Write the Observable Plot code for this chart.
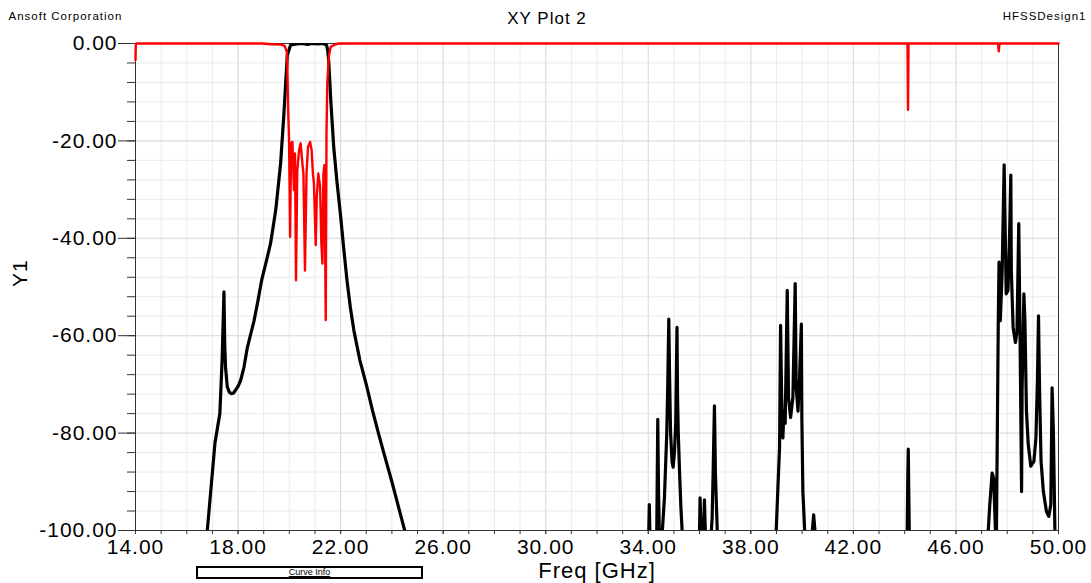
<!DOCTYPE html>
<html>
<head>
<meta charset="utf-8">
<script src="https://cdn.jsdelivr.net/npm/d3@7"></script>
<script src="https://cdn.jsdelivr.net/npm/@observablehq/plot@0.6"></script>
<style>
  html, body { margin: 0; padding: 0; background: #fff; }
  #wrap { position: relative; width: 1091px; height: 583px; }
  #curveinfo {
    position: absolute; left: 196px; top: 566px; width: 227px; height: 13px;
    box-sizing: border-box; border: 2px solid #000; background: #fff;
    font: 9px 'Liberation Sans', Arial, sans-serif; text-align: center;
    line-height: 9px; text-decoration: underline; color: #000;
  }
</style>
</head>
<body>
<div id="wrap"><div id="curveinfo">Curve Info</div></div>
<script>
// ---- Tick values ----
const xMajorTicks = [14, 18, 22, 26, 30, 34, 38, 42, 46, 50];
const yMajorTicks = [0, -20, -40, -60, -80, -100];

// ---- Black curve (S21) by segment: frequency [GHz] and dB ----
const blkPassFreq = [16.55,16.80,17.10,17.29,17.35,17.38,17.45,17.48,17.51,17.58,17.66,17.74,17.82,17.90,18.00,18.10,18.23,18.36,18.50,18.62,18.77,18.92,19.08,19.27,19.47,19.66,19.79,19.92,20.05,20.30,20.50,20.70,20.90,21.10,21.30,21.45,21.50,21.54,21.62,21.73,21.86,21.99,22.12,22.25,22.38,22.52,22.75,23.00,23.25,23.50,23.75,24.00,24.25,24.50,24.80];
const blkPassDb   = [-115,-100,-82,-76,-68.5,-64.7,-51,-61.6,-66.4,-70.5,-71.6,-71.9,-71.8,-71.2,-70.4,-69.2,-66.5,-62.5,-59.5,-57,-53,-48.6,-45.2,-41,-34.2,-24.6,-14.3,-2.4,-0.3,-0.1,0,-0.2,0,-0.1,0,-0.3,-1.5,-4,-12,-21.2,-28.5,-34.9,-42,-48.7,-54.2,-59,-65,-70,-75.5,-80.5,-85.3,-90,-95,-100,-106];

const blk34Freq = [33.99,34.02,34.04,34.06,34.09,34.33,34.37,34.40,34.43,34.50,34.55,34.63,34.72,34.76,34.80,34.83,34.87,34.93,34.97,35.02,35.07,35.12,35.14,35.17,35.22,35.27,35.32,35.36];
const blk34Db   = [-104,-100,-94.7,-100,-104,-101,-77.2,-92,-100,-101,-100,-93.3,-80.3,-70,-56.6,-68,-80,-86,-87,-84,-78,-58.3,-72,-80,-88,-95,-100,-106];

const blk36Freq = [35.98,36.00,36.02,36.06,36.12,36.16,36.19,36.23,36.45,36.49,36.53,36.58,36.62,36.69,36.72];
const blk36Db   = [-104,-100,-93.3,-100,-101,-100,-93.7,-101,-101,-97.5,-88,-74.4,-88.5,-100,-106];

const blk39Freq = [38.95,38.99,39.05,39.12,39.16,39.20,39.25,39.29,39.34,39.42,39.47,39.55,39.64,39.73,39.77,39.84,39.90,39.97,39.99,40.03,40.10,40.13,40.38,40.40,40.45,40.50,40.53];
const blk39Db   = [-106,-100,-92,-83,-57.9,-72,-81,-75.5,-78,-50.7,-72.7,-76.8,-72.7,-49.3,-70.7,-75.5,-68.6,-57.6,-76.8,-92,-100,-106,-104,-100,-96.8,-100,-104];

const blk44Freq = [44.08,44.10,44.12,44.14,44.16,44.18,44.20];
const blk44Db   = [-106,-100,-90,-83.3,-92,-100,-106];

const blk47Freq = [47.22,47.26,47.32,47.41,47.47,47.54,47.58,47.62,47.65,47.68,47.73,47.80,47.88,47.96,48.03,48.09,48.14,48.16,48.23,48.32,48.38,48.45,48.50,48.56,48.58,48.65,48.69,48.75,48.82,48.92,49.04,49.12,49.18,49.22,49.26,49.32,49.41,49.53,49.62,49.70,49.75,49.80,49.86,49.90];
const blk47Db   = [-106,-100,-94.7,-88.2,-89.2,-100,-100,-76.1,-57.6,-44.9,-56.9,-47.3,-24.9,-51.4,-50.7,-39.7,-27,-46.6,-58.3,-61.4,-59.3,-37,-60,-92,-71.3,-51.4,-56.9,-75.5,-82.3,-86.8,-85.8,-81,-68.6,-55.9,-70.7,-85.8,-92,-96.1,-97.1,-94.7,-70.7,-79.6,-100,-106];

// ---- Red curve (S11) ----
const redFreq = [14.00,14.01,14.03,18.95,19.30,19.66,19.82,19.90,19.92,19.95,19.99,20.03,20.07,20.12,20.18,20.22,20.26,20.31,20.38,20.44,20.51,20.55,20.61,20.67,20.73,20.81,20.87,20.92,20.96,21.03,21.07,21.13,21.20,21.25,21.29,21.33,21.37,21.39,21.42,21.45,21.48,21.54,21.61,21.81,21.95,44.11,44.13,44.15,47.64,47.67,47.70,50.00];
const redDb   = [-3.4,-0.4,0,0,-0.15,-0.2,-0.5,-1.7,-4.1,-13,-19.8,-39.7,-20.5,-20.2,-30.1,-22.6,-48.6,-26,-21.9,-20.5,-24.6,-26.7,-46.6,-26.7,-21.2,-20.2,-21.9,-26.7,-28.7,-41.4,-31.5,-26.7,-29.4,-41.1,-45.2,-26.7,-25,-38.3,-56.8,-18.5,-8.2,-2.7,-0.7,-0.15,0,0,-13.6,0,0,-1.6,0,0];

// ---- Build tables ----
const zip = (fs, ds) => fs.map((f, i) => ({f, db: ds[i]}));
const black = [].concat(
  zip(blkPassFreq, blkPassDb), zip(blk34Freq, blk34Db), zip(blk36Freq, blk36Db),
  zip(blk39Freq, blk39Db), zip(blk44Freq, blk44Db), zip(blk47Freq, blk47Db)
);
const red = zip(redFreq, redDb);

const xMinorTicks = d3.range(14, 50.001, 1);
const yMinorTicks = d3.range(-100, 0.001, 4);
const fmt = d => d.toFixed(2);

const chart = Plot.plot({
  width: 1091,
  height: 583,
  marginLeft: 135,
  marginRight: 33,
  marginTop: 43,
  marginBottom: 53,
  x: {domain: [14, 50], label: null},
  y: {domain: [-100, 0], label: null},
  style: {
    fontFamily: "'Liberation Sans', Arial, sans-serif",
    fontSize: "21px",
    color: "#000",
    background: "transparent",
    letterSpacing: "1px"
  },
  marks: [
    Plot.gridX({ticks: xMinorTicks, stroke: "#ebebeb", strokeOpacity: 1}),
    Plot.gridY({ticks: yMinorTicks, stroke: "#ebebeb", strokeOpacity: 1}),
    Plot.gridX({ticks: xMajorTicks, stroke: "#dcdcdc", strokeOpacity: 1}),
    Plot.gridY({ticks: yMajorTicks, stroke: "#dcdcdc", strokeOpacity: 1}),
    Plot.axisY({ticks: yMinorTicks, tickSize: 8, tickFormat: () => "", label: null, stroke: "#333"}),
    Plot.axisY({ticks: yMajorTicks, tickSize: 17, tickPadding: 1, tickFormat: fmt, label: null, stroke: "#333"}),
    Plot.axisX({ticks: xMinorTicks, tickSize: 4, tickFormat: () => "", label: null, stroke: "#333"}),
    Plot.axisX({ticks: xMajorTicks, tickSize: 4, tickPadding: 5, tickFormat: fmt, label: null, stroke: "#333"}),
    Plot.frame({stroke: "#333"}),
    Plot.line(black, {x: "f", y: "db", stroke: "#000", strokeWidth: 3.2, clip: true, strokeLinejoin: "round"}),
    Plot.line(red, {x: "f", y: "db", stroke: "#ff0000", strokeWidth: 2.4, strokeLinejoin: "round"}),
    Plot.text(["XY Plot 2"], {text: d => d, frameAnchor: "top", lineAnchor: "middle", dx: -50, dy: -25, fontSize: 17}),
    Plot.text(["Ansoft Corporation"], {text: d => d, frameAnchor: "top-left", lineAnchor: "middle", textAnchor: "start", dx: -127, dy: -27, fontSize: 11.5}),
    Plot.text(["HFSSDesign1"], {text: d => d, frameAnchor: "top-right", lineAnchor: "middle", textAnchor: "end", dx: 28, dy: -27, fontSize: 11.5}),
    Plot.text(["Y1"], {text: d => d, frameAnchor: "left", lineAnchor: "middle", dx: -115, rotate: -90, fontSize: 21}),
    Plot.text(["Freq [GHz]"], {text: d => d, frameAnchor: "bottom", lineAnchor: "middle", dy: 40, fontSize: 22})
  ]
});
document.getElementById("wrap").prepend(chart);
</script>
</body>
</html>
